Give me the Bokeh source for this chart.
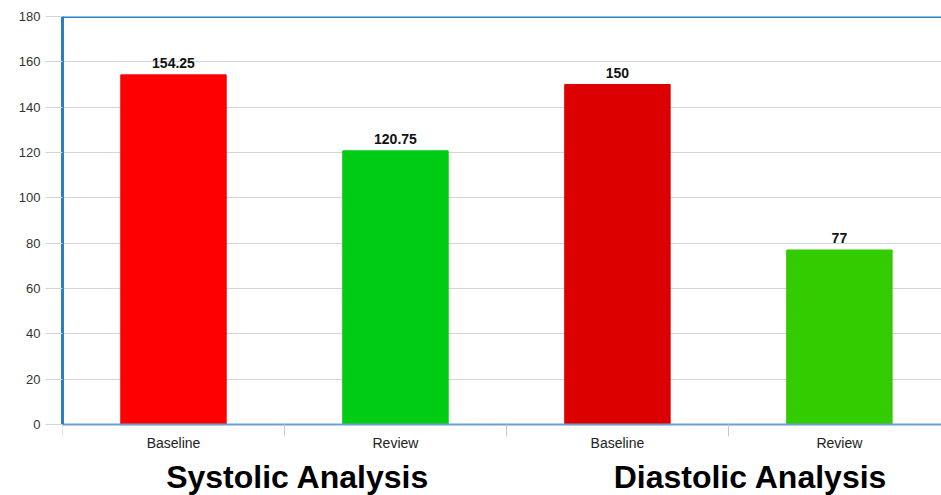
from bokeh.plotting import figure
from bokeh.models import ColumnDataSource, Range1d, FixedTicker, Span
from bokeh.core.properties import value
from bokeh.embed import file_html
from bokeh.resources import INLINE

groups = ["Systolic Analysis", "Diastolic Analysis"]
categories = ["Baseline", "Review", "Baseline", "Review"]
values = [154.25, 120.75, 150, 77]
labels = ["154.25", "120.75", "150", "77"]
colors = ["#ff0000", "#00cc14", "#dd0000", "#33cc00"]
y_ticks = [0, 20, 40, 60, 80, 100, 120, 140, 160, 180]

xs = [i + 0.5 for i in range(len(categories))]
src = ColumnDataSource(dict(x=xs, top=values, color=colors, label=labels))

gx = [1.06, 3.10]
gsrc = ColumnDataSource(dict(x=gx, y=[-23.2] * len(gx), text=groups))

FONT = "Liberation Sans"

p = figure(width=941, height=495, output_backend="svg", toolbar_location=None,
           x_range=Range1d(0, 3.96), y_range=Range1d(-31.3, 180),
           min_border_left=62, min_border_right=0, min_border_top=16, min_border_bottom=0)

p.vbar(x="x", top="top", width=0.475, color="color", source=src)
p.text(x="x", y="top", text="label", source=src, text_align="center", text_baseline="bottom",
       y_offset=-7, text_font=value(FONT), text_font_style="bold", text_font_size="14px",
       text_color="#111111")
p.text(x="x", y="y", text="text", source=gsrc, text_align="center", text_baseline="middle",
       text_font=value(FONT), text_font_style="bold", text_font_size="32px",
       text_color="#000000")

p.outline_line_color = None
p.add_layout(Span(location=180, dimension="width", line_color="#2a7fc0", line_width=3))
p.xgrid.visible = False
p.ygrid.grid_line_color = "#d4d4d4"
p.ygrid.grid_line_width = 1

ya = p.yaxis[0]
ya.ticker = FixedTicker(ticks=y_ticks)
ya.bounds = (0, 180)
ya.axis_line_color = "#2a7fc0"
ya.axis_line_width = 3
ya.major_tick_line_color = "#d4d4d4"
ya.major_tick_out = 17
ya.major_tick_in = 0
ya.minor_tick_line_color = None
ya.major_label_standoff = 5
ya.major_label_text_font = FONT
ya.major_label_text_font_size = "13px"
ya.major_label_text_color = "#333333"

xa = p.xaxis[0]
xa.fixed_location = 0
xa.ticker = FixedTicker(ticks=xs, minor_ticks=list(range(len(categories) + 1)))
xa.major_label_overrides = {x: c for x, c in zip(xs, categories)}
xa.axis_line_color = "#6a9fd0"
xa.axis_line_width = 2
xa.major_tick_line_color = None
xa.major_tick_out = 0
xa.minor_tick_line_color = "#c8c8c8"
xa.minor_tick_out = 12
xa.minor_tick_in = 0
xa.major_label_standoff = -2
xa.major_label_text_font = FONT
xa.major_label_text_font_size = "14px"
xa.major_label_text_color = "#222222"

open("out.html", "w").write(file_html(p, INLINE))
